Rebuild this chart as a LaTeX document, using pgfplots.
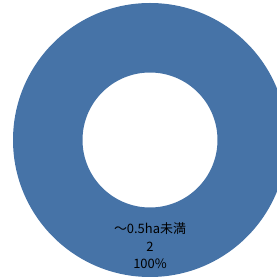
\documentclass[border=0pt]{standalone}
\usepackage{pgfplots}
\pgfplotsset{compat=1.18}
\usepackage{pgfplotstable}
\usepackage{fontspec}
\setmainfont{Noto Sans CJK JP}
\definecolor{donutblue}{RGB}{70,115,167}
\pgfplotstableread{
label value
{～0.5ha未満} 2
}\donutdata
\begin{document}
\begin{tikzpicture}
\pgfplotstablegetelem{0}{value}\of\donutdata
\let\sliceval\pgfplotsretval
\pgfmathsetmacro\slicepct{100*\sliceval/2}
\begin{axis}[
  width=277bp, height=278bp, scale only axis,
  xmin=0, xmax=277, ymin=0, ymax=278,
  hide axis, clip=true,
  /pgf/number format/assume math mode=true,
]
\fill[donutblue, even odd rule] (axis cs:150,138) circle[radius=137] (axis cs:150,138) circle[radius=67.5];
\node[align=center, font=\fontsize{13}{17.5}\selectfont, text=black] at (axis cs:150,32)
  {～0.5ha未満\\\pgfmathprintnumber{\sliceval}\\\pgfmathprintnumber[fixed,precision=0,assume math mode=true]{\slicepct}\%};
\end{axis}
\pgfresetboundingbox
\useasboundingbox (current axis.south west) rectangle (current axis.north east);
\end{tikzpicture}
\end{document}
